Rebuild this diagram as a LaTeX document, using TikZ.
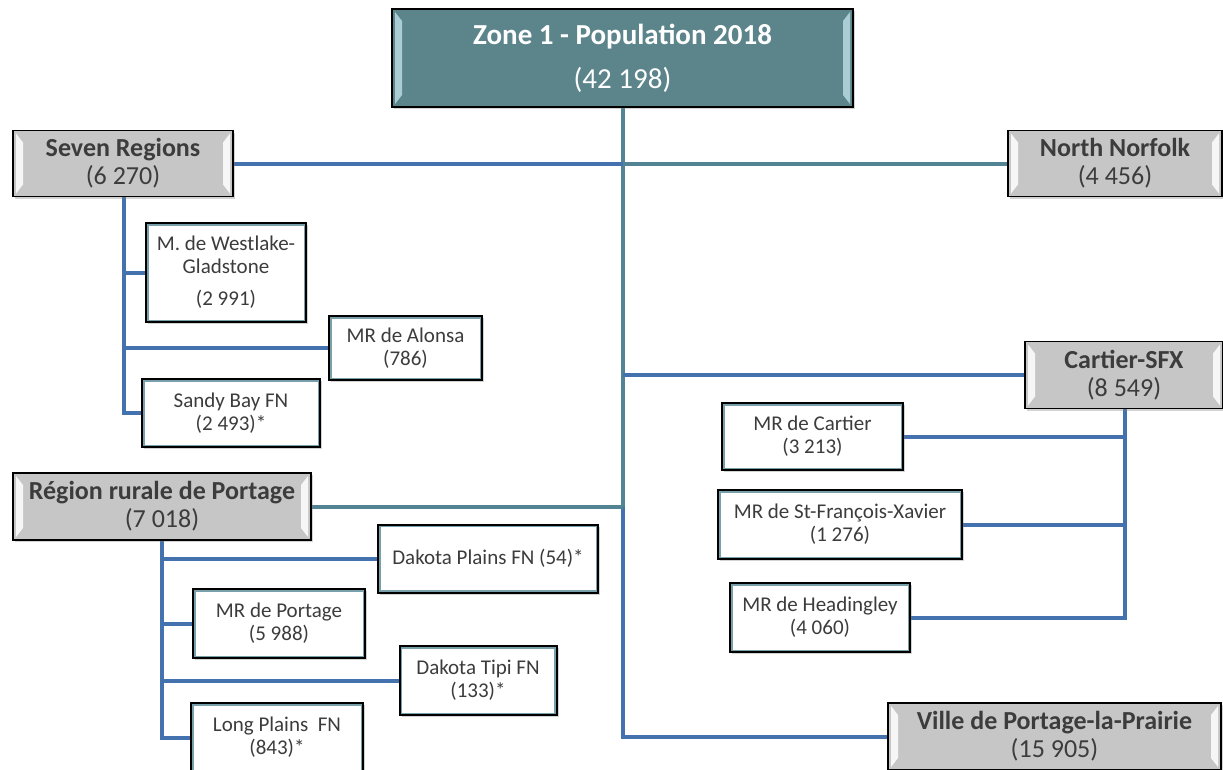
\documentclass[tikz,border=0pt]{standalone}
\usepackage{fontspec}
\setmainfont{Carlito}
\usetikzlibrary{calc,shadows}
\definecolor{blueln}{RGB}{68,114,175}
\definecolor{tealln}{RGB}{82,132,148}
\definecolor{zonefill}{RGB}{92,133,139}
\definecolor{zonehi}{RGB}{170,205,212}
\definecolor{grayfill}{RGB}{198,198,198}
\definecolor{txtgray}{RGB}{60,60,60}
\definecolor{innerln}{RGB}{120,160,170}
\pgfdeclarelayer{bg}
\pgfsetlayers{bg,main}
\tikzset{
  bevel/.style={path picture={
    \fill[#1] ($(path picture bounding box.north west)+(3pt,-3pt)$) -- ($(path picture bounding box.south west)+(3pt,3pt)$) -- ($(path picture bounding box.south west)+(10pt,12pt)$) -- ($(path picture bounding box.north west)+(10pt,-12pt)$) -- cycle;
    \fill[#1] ($(path picture bounding box.north east)+(-3pt,-3pt)$) -- ($(path picture bounding box.south east)+(-3pt,3pt)$) -- ($(path picture bounding box.south east)+(-10pt,12pt)$) -- ($(path picture bounding box.north east)+(-10pt,-12pt)$) -- cycle;
  }},
  inner line/.style={path picture={
    \draw[innerln, line width=5pt] (path picture bounding box.south west) rectangle (path picture bounding box.north east);
  }},
  shadowed/.style={drop shadow={shadow xshift=2pt, shadow yshift=-2pt, opacity=0.35}},
  zonebox/.style={shadowed, draw=black, line width=1.6pt, fill=zonefill, bevel=zonehi,
    text=white, align=center, inner sep=0pt, minimum width=461pt, minimum height=98pt,
    font=\fontsize{29}{44}\selectfont},
  graybox/.style={shadowed, draw=black, line width=1.4pt, fill=grayfill, bevel={white, opacity=0.85},
    text=txtgray, align=center, inner sep=0pt, minimum height=66pt,
    font=\fontsize{26}{28}\selectfont},
  whitebox/.style={shadowed, draw=black, line width=2pt, fill=white, inner line,
    text=txtgray, align=center, inner sep=0pt, minimum height=68pt,
    font=\fontsize{21}{23}\selectfont},
  bline/.style={draw=blueln, line width=4pt},
  tline/.style={draw=tealln, line width=4pt},
}
\begin{document}
\begin{tikzpicture}[x=1pt, y=-1pt]
\useasboundingbox (0,0) rectangle (1223,769);

% top
\node[zonebox] (zone) at (622.5,58) {\textbf{Zone 1 - Population 2018}\\(42 198)};

% level 1 gray boxes
\node[graybox, minimum width=220pt] (seven) at (123,163.5) {\textbf{Seven Regions}\\(6 270)};
\node[graybox, minimum width=214pt] (norfolk) at (1115,163.5) {\textbf{North Norfolk}\\(4 456)};
\node[graybox, minimum width=198pt, minimum height=67pt] (cartier) at (1124,375) {\textbf{Cartier-SFX}\\(8 549)};
\node[graybox, minimum width=298pt, minimum height=67pt] (rural) at (162,506.5) {\textbf{Région rurale de Portage}\\(7 018)};
\node[graybox, minimum width=333pt, minimum height=67pt] (ville) at (1054.5,736.5) {\textbf{Ville de Portage-la-Prairie}\\(15 905)};

% Seven Regions children
\node[whitebox, minimum width=160pt, minimum height=99pt] (westlake) at (226,272.5) {M. de Westlake-\\Gladstone\\[9pt](2 991)};
\node[whitebox, minimum width=153pt, minimum height=64pt] (alonsa) at (405.5,348) {MR de Alonsa\\(786)};
\node[whitebox, minimum width=178pt] (sandy) at (231,413) {Sandy Bay FN\\(2 493)*};

% Cartier children
\node[whitebox, minimum width=181pt, minimum height=67pt] (mrcartier) at (812.5,436.5) {MR de Cartier\\(3 213)};
\node[whitebox, minimum width=244pt, minimum height=69pt] (sfx) at (840,524.5) {MR de St-François-Xavier\\(1 276)};
\node[whitebox, minimum width=180pt, minimum height=69pt] (heading) at (820,617.5) {MR de Headingley\\(4 060)};

% Rural children
\node[whitebox, minimum width=220pt] (dplains) at (488,558.5) {Dakota Plains FN (54)*};
\node[whitebox, minimum width=172pt, minimum height=69pt] (mrportage) at (279,623.5) {MR de Portage\\(5 988)};
\node[whitebox, minimum width=157pt, minimum height=69pt] (dtipi) at (478,680.5) {Dakota Tipi FN\\(133)*};
\node[whitebox, minimum width=172pt, minimum height=69pt] (lplains) at (277,737.5) {Long Plains~ FN\\(843)*};

\coordinate (j1) at (zone.south |- seven.east);
\coordinate (j2) at (zone.south |- rural.east);
\coordinate (ctop) at (1125,408.5);
\coordinate (stop) at (124,196);

\begin{pgfonlayer}{bg}
% trunk
\draw[tline] (zone.south) -- (j2);
\draw[bline] (j2) |- (ville.west);
\draw[bline] (seven.east) -- (j1);
\draw[tline] (j1) -- (norfolk.west);
\draw[bline] (zone.south |- cartier.west) -- (cartier.west);
\draw[tline] (rural.east) -- (j2);
% Seven Regions subtree
\draw[bline] (stop) |- (sandy.west);
\draw[bline] (stop |- westlake.west) -- (westlake.west);
\draw[bline] (stop |- alonsa.west) -- (alonsa.west);
% Cartier subtree
\draw[bline] (ctop) |- (heading.east);
\draw[bline] (ctop |- mrcartier.east) -- (mrcartier.east);
\draw[bline] (ctop |- sfx.east) -- (sfx.east);
% Rural subtree
\draw[bline] (rural.south) |- (lplains.west);
\draw[bline] (rural.south |- dplains.west) -- (dplains.west);
\draw[bline] (rural.south |- mrportage.west) -- (mrportage.west);
\draw[bline] (rural.south |- dtipi.west) -- (dtipi.west);
\end{pgfonlayer}
\end{tikzpicture}
\end{document}
